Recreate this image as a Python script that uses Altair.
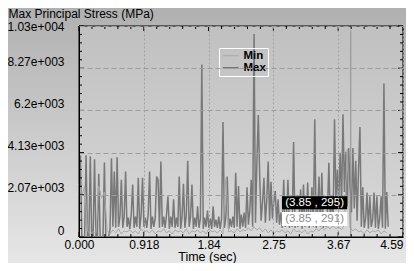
import altair as alt
import pandas as pd

# ---------------- data ----------------
DT_MAX = 0.02   # sample spacing of the Max trace (s)
DT_MIN = 0.04   # sample spacing of the Min trace (s)

max_v = [
    2000, 4000, 0, 0, 0, 4000, 0, 0, 3950, 0,
    0, 3800, 0, 0, 3100, 0, 0, 0, 3650, 0,
    0, 0, 400, 3850, 500, 3200, 450, 3900, 500, 1000,
    2800, 450, 1000, 3200, 500, 950, 400, 1100, 2570, 450,
    1000, 500, 2900, 400, 1050, 2900, 500, 950, 450, 1100,
    3200, 400, 1000, 500, 950, 2960, 2800, 450, 3690, 500,
    1000, 450, 1100, 1990, 400, 1000, 500, 1850, 450, 950,
    500, 2960, 400, 1000, 2600, 450, 1050, 3730, 500, 1000,
    2570, 400, 950, 500, 1500, 450, 900, 8450, 400, 950,
    500, 1300, 450, 900, 400, 1500, 500, 850, 450, 1000,
    400, 900, 5630, 450, 950, 2960, 400, 900, 500, 1000,
    450, 3150, 500, 2500, 400, 1100, 500, 1200, 450, 2430,
    600, 1300, 2800, 500, 9940, 700, 3640, 5970, 2960, 800,
    1700, 2900, 700, 1800, 3690, 800, 2700, 900, 1750, 2250,
    700, 1850, 600, 1200, 450, 2800, 500, 1000, 2800, 450,
    1050, 500, 4650, 450, 950, 500, 1100, 2330, 400, 2570,
    500, 1000, 2670, 450, 950, 2430, 500, 5770, 450, 1050,
    2960, 500, 3150, 450, 1100, 500, 1300, 3640, 700, 2000,
    1000, 5770, 1500, 3300, 1800, 4120, 1600, 6010, 2200, 4170,
    1500, 4360, 2400, 1200, 4360, 1400, 3730, 800, 3300, 5380,
    500, 2430, 450, 900, 2180, 400, 1990, 500, 850, 2180,
    450, 1990, 400, 900, 1990, 450, 7520, 400, 2200, 500,
]

min_v = [
    2600, 2000, 2500, 300, 150, 250, 200, 2500, 1900, 2200,
    300, 150, 350, 200, 400, 150, 300, 250, 350, 200,
    300, 150, 400, 250, 300, 200, 350, 150, 300, 250,
    400, 200, 300, 150, 350, 250, 300, 200, 400, 150,
    300, 250, 350, 200, 300, 150, 400, 250, 300, 200,
    350, 150, 2900, 250, 300, 200, 400, 250, 350, 300,
    450, 300, 500, 350, 450, 250, 400, 200, 350, 150,
    300, 250, 350, 200, 300, 150, 400, 250, 300, 200,
    350, 150, 300, 250, 400, 300, 450, 350, 500, 400,
    550, 400, 500, 350, 600, 4300, 450, 300, 400, 250,
    300, 150, 350, 200, 300, 250, 350, 150, 300, 200,
]

series_names = ["Min", "Max"]
series_colors = ["#a8a8a8", "#787878"]
series_widths = [1.0, 1.5]

x_ticks = [0, 0.918, 1.836, 2.754, 3.672, 4.59]
x_labels = ["0.000", "0.918", "1.84", "2.75", "3.67", "4.59"]
y_ticks = [0, 2066, 4132, 6198, 8264, 10330]
y_labels = ["0", "2.07e+003", "4.13e+003", "6.2e+003", "8.27e+003", "1.03e+004"]

cursor_t = [3.85]
cursor_top = [10100]

box_text = ["(3.85 , 295)", "(3.85 , 291)"]
box_x1 = [2.875, 2.875]
box_x2 = [3.80, 3.80]
box_y1 = [1360, 540]
box_y2 = [2000, 1220]
box_fill = ["#000000", "#ffffff"]
box_text_color = ["#ffffff", "#8c8c8c"]

# ---------------- geometry ----------------
W, H = 324, 211
PAD = {"left": 71, "top": 18, "right": 3, "bottom": 26}
X_MAX, Y_MAX = 4.59, 10330
xs = X_MAX / W   # data units per pixel
ys = Y_MAX / H

FONT = "Liberation Sans"

# ---------------- tables ----------------
rows = []
for i, v in enumerate(max_v):
    rows.append({"t": round(i * DT_MAX, 3), "v": v, "series": "Max"})
for i, v in enumerate(min_v):
    rows.append({"t": round(i * DT_MIN, 3), "v": v, "series": "Min"})
df = pd.DataFrame(rows)

# inward tick marks (major + 4 minor per interval)
h_rows, v_rows = [], []
ystep = (y_ticks[1] - y_ticks[0]) / 5
for k in range(len(y_ticks)):
    for j in range(5 if k < len(y_ticks) - 1 else 1):
        p = y_ticks[k] + j * ystep
        L = (5 if j == 0 else 3) * xs
        h_rows.append({"x": 0, "x2": L, "y": p})
        h_rows.append({"x": X_MAX - L, "x2": X_MAX, "y": p})
xstep = (x_ticks[1] - x_ticks[0]) / 5
for k in range(len(x_ticks)):
    for j in range(5 if k < len(x_ticks) - 1 else 1):
        p = x_ticks[k] + j * xstep
        L = (5 if j == 0 else 3) * ys
        v_rows.append({"x": p, "y": 0, "y2": L})
        v_rows.append({"x": p, "y": Y_MAX - L, "y2": Y_MAX})
h_df = pd.DataFrame(h_rows)
v_df = pd.DataFrame(v_rows)

box_df = pd.DataFrame({
    "label": box_text, "x1": box_x1, "x2": box_x2, "y1": box_y1, "y2": box_y2,
    "fill": box_fill, "tc": box_text_color,
    "xm": [(a + b) / 2 for a, b in zip(box_x1, box_x2)],
    "ym": [(a + b) / 2 for a, b in zip(box_y1, box_y2)],
})
cur_df = pd.DataFrame({"t": cursor_t, "y0": [0], "y1": cursor_top})


def label_expr(vals, labels):
    expr = "'" + labels[-1] + "'"
    for v, l in reversed(list(zip(vals[:-1], labels[:-1]))):
        expr = "datum.value <= " + str(v * 1.001 + 1e-6) + " ? '" + l + "' : (" + expr + ")"
    return expr


xscale = alt.Scale(domain=[0, X_MAX], nice=False, zero=False)
yscale = alt.Scale(domain=[0, Y_MAX], nice=False)

x_axis = alt.Axis(
    values=x_ticks, labelExpr=label_expr(x_ticks, x_labels),
    labelAlign={"condition": {"test": "datum.value > 4.5", "value": "right"}, "value": "center"},
    labelFont=FONT, labelFontSize=12, labelColor="black", labelPadding=2,
    ticks=False, domainColor="black", domainWidth=1,
    grid=True, gridColor="#a2a2a2", gridDash=[2, 2], gridWidth=1,
    title="Time (sec)", titleFont=FONT, titleFontSize=12.5, titleFontWeight="normal",
    titleColor="black", titleX=128, titleY=23, titleAlign="center",
    titleBaseline="alphabetic", zindex=1, labelOverlap=False,
)
y_axis = alt.Axis(
    values=y_ticks, labelExpr=label_expr(y_ticks, y_labels),
    labelFont=FONT, labelFontSize=12, labelColor="black", labelPadding=15,
    labelOffset={"condition": {"test": "datum.value > 10000", "value": 0}, "value": -7},
    labelOverlap=False,
    ticks=False, domainColor="black", domainWidth=1,
    grid=True, gridColor="#9c9c9c", gridDash=[5, 3], gridWidth=1,
    title="Max Principal Stress (MPa)", titleFont=FONT, titleFontSize=12,
    titleFontWeight="normal", titleColor="black", titleAngle=0,
    titleAlign="left", titleBaseline="alphabetic", titleX=-71, titleY=-9,
    zindex=1,
)

one = pd.DataFrame({"a": [0]})

outer_bg = alt.Chart(one).mark_rect(
    fill=alt.LinearGradient(
        gradient="linear",
        stops=[alt.GradientStop(color="#b0b0b0", offset=0),
               alt.GradientStop(color="#e6e6e6", offset=1)],
        x1=0, x2=0, y1=0, y2=1),
    clip=False,
).encode(x=alt.value(-PAD["left"]), x2=alt.value(W + PAD["right"]),
         y=alt.value(-PAD["top"]), y2=alt.value(H + PAD["bottom"]))

plot_bg = alt.Chart(one).mark_rect(
    fill=alt.LinearGradient(
        gradient="linear",
        stops=[alt.GradientStop(color="#c0c0c0", offset=0),
               alt.GradientStop(color="#d8d8d8", offset=1)],
        x1=0, x2=0, y1=0, y2=1),
    stroke="black", strokeWidth=1,
).encode(x=alt.value(0), x2=alt.value(W), y=alt.value(0), y2=alt.value(H))

lines = alt.Chart(df).mark_line(interpolate="linear").encode(
    x=alt.X("t:Q", scale=xscale, axis=x_axis),
    y=alt.Y("v:Q", scale=yscale, axis=y_axis),
    color=alt.Color("series:N",
                    scale=alt.Scale(domain=series_names, range=series_colors),
                    legend=alt.Legend(
                        title=None, orient="none", legendX=140, legendY=22,
                        symbolType="M-1,0H3", symbolSize=64, symbolStrokeWidth=1,
                        labelFont=FONT, labelFontWeight="bold", labelFontSize=11.5,
                        labelColor="black", strokeColor="white", padding=2,
                        rowPadding=-3, labelOffset=11, offset=0)),
    strokeWidth=alt.StrokeWidth("series:N",
                                scale=alt.Scale(domain=series_names, range=series_widths),
                                legend=None),
    order=alt.Order("t:Q"),
)

cursor = alt.Chart(cur_df).mark_rule(color="#8c8c8c", strokeWidth=1).encode(
    x="t:Q", y="y0:Q", y2="y1:Q")

hticks = alt.Chart(h_df).mark_rule(color="black", strokeWidth=1).encode(
    x="x:Q", x2="x2:Q", y="y:Q")
vticks = alt.Chart(v_df).mark_rule(color="black", strokeWidth=1).encode(
    x="x:Q", y="y:Q", y2="y2:Q")

boxes = alt.Chart(box_df).mark_rect().encode(
    x="x1:Q", x2="x2:Q", y="y1:Q", y2="y2:Q",
    fill=alt.Fill("fill:N", scale=None, legend=None))
box_labels = alt.Chart(box_df).mark_text(font=FONT, fontSize=11.5).encode(
    x="xm:Q", y="ym:Q", text="label:N",
    color=alt.Color("tc:N", scale=None, legend=None))

chart = alt.layer(
    outer_bg, plot_bg, lines, cursor, hticks, vticks, boxes, box_labels
).properties(
    width=W, height=H, padding=PAD,
    autosize=alt.AutoSizeParams(type="none"),
    background="#c6c6c6",
).configure_view(stroke=None)

chart.save("out.html", embed_options={"renderer": "svg", "actions": False})
